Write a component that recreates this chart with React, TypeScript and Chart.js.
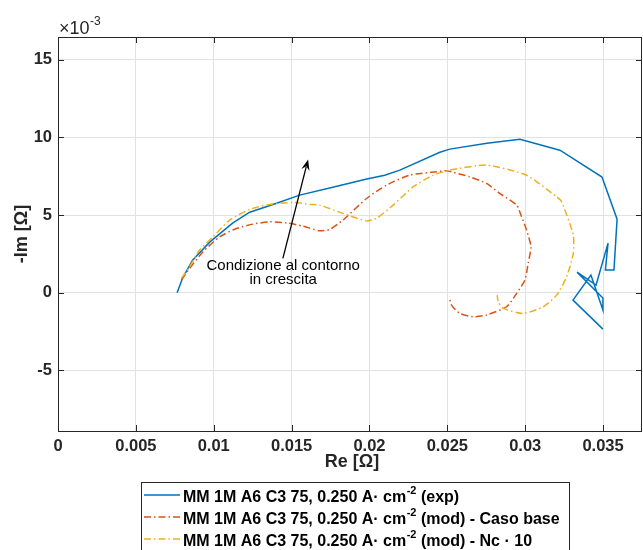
import React, { useEffect, useRef } from "react";
import { Chart, registerables } from "chart.js";

Chart.register(...registerables);

// Nyquist data: Re in ohm, -Im in units of 1e-3 ohm
const expRe = [0.00765, 0.0080, 0.00864, 0.00974, 0.01121, 0.01231, 0.01404, 0.01552, 0.01764, 0.01983, 0.02098, 0.02195, 0.02452, 0.02516, 0.02754, 0.02966, 0.03223, 0.03493, 0.0359, 0.0357, 0.03515, 0.03532, 0.03455, 0.03333, 0.03499, 0.03499, 0.03422, 0.03307, 0.03499];
const expIm = [0.0, 0.95, 2.1, 3.26, 4.48, 5.19, 5.77, 6.29, 6.8, 7.32, 7.57, 7.9, 9.05, 9.25, 9.63, 9.89, 9.18, 7.45, 4.74, 1.47, 1.47, 3.2, 0.5, 1.33, -0.34, -1.11, 1.14, -0.47, -2.34];

const baseRe = [0.00792, 0.00845, 0.00931, 0.01038, 0.01145, 0.01252, 0.01359, 0.01467, 0.01573, 0.0168, 0.01745, 0.0183, 0.01981, 0.02109, 0.02259, 0.02431, 0.02495, 0.02645, 0.02752, 0.02837, 0.02945, 0.02977, 0.03009, 0.03037, 0.03019, 0.02998, 0.02945, 0.0288, 0.02752, 0.02666, 0.0258, 0.02527, 0.02512];
const baseIm = [0.82, 1.57, 2.64, 3.6, 4.14, 4.42, 4.57, 4.5, 4.29, 3.99, 4.08, 4.68, 6.07, 6.93, 7.58, 7.79, 7.85, 7.46, 7.04, 6.4, 5.64, 4.89, 4.03, 2.96, 1.89, 0.82, -0.04, -0.9, -1.43, -1.54, -1.33, -0.79, -0.26];

const nc10Re = [0.00792, 0.00845, 0.00909, 0.00995, 0.01102, 0.01231, 0.01359, 0.01509, 0.01616, 0.01681, 0.0183, 0.01981, 0.02045, 0.02152, 0.0228, 0.02409, 0.02516, 0.02752, 0.03009, 0.03202, 0.03234, 0.03309, 0.03309, 0.03266, 0.03202, 0.03116, 0.02987, 0.02859, 0.02827, 0.0282];
const nc10Im = [0.93, 1.67, 2.75, 3.6, 4.68, 5.37, 5.69, 5.82, 5.69, 5.64, 5.11, 4.63, 4.79, 5.64, 6.82, 7.57, 7.9, 8.22, 7.57, 6.18, 5.86, 3.71, 2.54, 1.03, -0.15, -0.9, -1.33, -1.0, -0.58, -0.15];

const xTicks = [0, 0.005, 0.01, 0.015, 0.02, 0.025, 0.03, 0.035];
const yTicks = [-5, 0, 5, 10, 15];

const seriesColors = ["#0072BD", "#D95319", "#EDB120"];
const legendPrefix = "MM 1M A6 C3 75, 0.250 A\u00B7 cm";
const legendSuffixes = [" (exp)", " (mod) - Caso base", " (mod) - Nc \u00B7 10"];

const annotationLines = ["Condizione al contorno", "in crescita"];
const annotationTextAt = { x: 0.01446, y: 1.72 };
const arrowFrom = { x: 0.01444, y: 2.22 };
const arrowTo = { x: 0.01606, y: 8.59 };

const FONT = "'Liberation Sans', Arial, Helvetica, sans-serif";
const DASH_DOT = [7, 3, 1.5, 3];

const toPoints = (xs: number[], ys: number[]) => xs.map((x, i) => ({ x, y: ys[i] }));

const overlayPlugin = {
  id: "overlay",
  afterDraw(chart: any) {
    const ctx = chart.ctx as CanvasRenderingContext2D;
    const { left, right, top, bottom } = chart.chartArea;
    const xs = chart.scales.x;
    const ys = chart.scales.y;
    ctx.save();

    // axes box
    ctx.strokeStyle = "#262626";
    ctx.lineWidth = 1;
    ctx.strokeRect(Math.round(left) + 0.5, Math.round(top) + 0.5, Math.round(right - left) - 1, Math.round(bottom - top));

    // inward tick marks on all four sides
    const tl = 6;
    ctx.beginPath();
    xTicks.forEach((v) => {
      const px = Math.round(xs.getPixelForValue(v)) + 0.5;
      ctx.moveTo(px, bottom);
      ctx.lineTo(px, bottom - tl);
      ctx.moveTo(px, top);
      ctx.lineTo(px, top + tl);
    });
    yTicks.forEach((v) => {
      const py = Math.round(ys.getPixelForValue(v)) + 0.5;
      ctx.moveTo(left, py);
      ctx.lineTo(left + tl, py);
      ctx.moveTo(right, py);
      ctx.lineTo(right - tl, py);
    });
    ctx.stroke();

    // exponent label
    ctx.fillStyle = "#262626";
    ctx.textBaseline = "alphabetic";
    ctx.textAlign = "left";
    ctx.font = `18px ${FONT}`;
    ctx.fillText("\u00D710", left + 1, top - 3);
    const w10 = ctx.measureText("\u00D710").width;
    ctx.font = `12px ${FONT}`;
    ctx.fillText("-3", left + 1 + w10 + 0.5, top - 12);

    // axis titles
    ctx.font = `bold 18px ${FONT}`;
    ctx.textAlign = "center";
    ctx.textBaseline = "middle";
    ctx.fillText("Re [\u03A9]", (left + right) / 2 + 2, 462);
    ctx.save();
    ctx.translate(22, (top + bottom) / 2);
    ctx.rotate(-Math.PI / 2);
    ctx.fillText("-Im [\u03A9]", 0, 0);
    ctx.restore();

    // annotation arrow
    const ax0 = xs.getPixelForValue(arrowFrom.x);
    const ay0 = ys.getPixelForValue(arrowFrom.y);
    const ax1 = xs.getPixelForValue(arrowTo.x);
    const ay1 = ys.getPixelForValue(arrowTo.y);
    const ang = Math.atan2(ay1 - ay0, ax1 - ax0);
    const hl = 11;
    const hw = 4.2;
    ctx.strokeStyle = "#000";
    ctx.fillStyle = "#000";
    ctx.lineWidth = 1.3;
    ctx.beginPath();
    ctx.moveTo(ax0, ay0);
    ctx.lineTo(ax1 - Math.cos(ang) * hl * 0.7, ay1 - Math.sin(ang) * hl * 0.7);
    ctx.stroke();
    const bx = ax1 - Math.cos(ang) * hl;
    const by = ay1 - Math.sin(ang) * hl;
    ctx.beginPath();
    ctx.moveTo(ax1, ay1);
    ctx.lineTo(bx + Math.sin(ang) * hw, by - Math.cos(ang) * hw);
    ctx.lineTo(ax1 - Math.cos(ang) * hl * 0.65, ay1 - Math.sin(ang) * hl * 0.65);
    ctx.lineTo(bx - Math.sin(ang) * hw, by + Math.cos(ang) * hw);
    ctx.closePath();
    ctx.fill();

    // annotation text
    const tx = xs.getPixelForValue(annotationTextAt.x);
    const ty = ys.getPixelForValue(annotationTextAt.y);
    ctx.font = `15px ${FONT}`;
    ctx.textAlign = "center";
    ctx.textBaseline = "middle";
    annotationLines.forEach((line, i) => ctx.fillText(line, tx, ty + i * 14));

    // legend
    const lx = 141.5;
    const ly = 482.5;
    ctx.fillStyle = "#fff";
    ctx.fillRect(lx, ly, 428, 70);
    ctx.strokeStyle = "#262626";
    ctx.lineWidth = 1;
    ctx.strokeRect(lx, ly, 428, 70);
    const rowY = [495, 517, 539];
    legendSuffixes.forEach((suffix, i) => {
      ctx.strokeStyle = seriesColors[i];
      ctx.lineWidth = 1.5;
      ctx.setLineDash(i === 0 ? [] : DASH_DOT);
      ctx.beginPath();
      ctx.moveTo(144, rowY[i]);
      ctx.lineTo(180, rowY[i]);
      ctx.stroke();
      ctx.setLineDash([]);
      ctx.fillStyle = "#000";
      ctx.textAlign = "left";
      ctx.textBaseline = "alphabetic";
      let x = 183;
      const base = rowY[i] + 7;
      ctx.font = `bold 16px ${FONT}`;
      ctx.fillText(legendPrefix, x, base);
      x += ctx.measureText(legendPrefix).width;
      ctx.font = `bold 11px ${FONT}`;
      ctx.fillText("-2", x + 0.5, base - 8);
      x += ctx.measureText("-2").width + 0.5;
      ctx.font = `bold 16px ${FONT}`;
      ctx.fillText(suffix, x, base);
    });

    ctx.restore();
  },
};

export default function App() {
  const canvasRef = useRef<HTMLCanvasElement | null>(null);

  useEffect(() => {
    if (!canvasRef.current) return;
    const lineSet = (label: string, xs: number[], ys: number[], i: number) => ({
      label,
      data: toPoints(xs, ys),
      showLine: true,
      borderColor: seriesColors[i],
      backgroundColor: seriesColors[i],
      borderWidth: 1.5,
      borderDash: i === 0 ? [] : DASH_DOT,
      pointRadius: 0,
      tension: i === 0 ? 0 : 0.2,
      order: 2 - i,
    });
    const chart = new Chart(canvasRef.current, {
      type: "scatter",
      data: {
        datasets: [
          lineSet("exp", expRe, expIm, 0),
          lineSet("Caso base", baseRe, baseIm, 1),
          lineSet("Nc 10", nc10Re, nc10Im, 2),
        ],
      },
      options: {
        animation: false,
        responsive: false,
        devicePixelRatio: 1,
        layout: { padding: { top: 37, right: 1, left: 0, bottom: 0 } },
        plugins: { legend: { display: false }, tooltip: { enabled: false } },
        scales: {
          x: {
            type: "linear",
            min: 0,
            max: 0.0375,
            afterFit: (s: any) => {
              s.height = 119;
            },
            afterBuildTicks: (s: any) => {
              s.ticks = xTicks.map((value) => ({ value }));
            },
            grid: { color: "#e2e2e2", drawTicks: false },
            border: { display: false },
            ticks: {
              padding: 6,
              color: "#262626",
              font: { family: FONT, size: 16.5, weight: "bold" },
              maxRotation: 0,
              callback: (v: any) => String(Number(Number(v).toFixed(4))),
            },
          },
          y: {
            type: "linear",
            min: -8.9,
            max: 16.47,
            afterFit: (s: any) => {
              s.width = 58;
            },
            afterBuildTicks: (s: any) => {
              s.ticks = yTicks.map((value) => ({ value }));
            },
            grid: { color: "#e2e2e2", drawTicks: false },
            border: { display: false },
            ticks: {
              padding: 6,
              color: "#262626",
              font: { family: FONT, size: 16.5, weight: "bold" },
              callback: (v: any) => String(v),
            },
          },
        },
      },
      plugins: [overlayPlugin],
    } as any);
    return () => chart.destroy();
  }, []);

  return (
    <div style={{ position: "absolute", left: 0, top: 0, width: 643, height: 550 }}>
      <canvas ref={canvasRef} width={643} height={550} />
    </div>
  );
}
